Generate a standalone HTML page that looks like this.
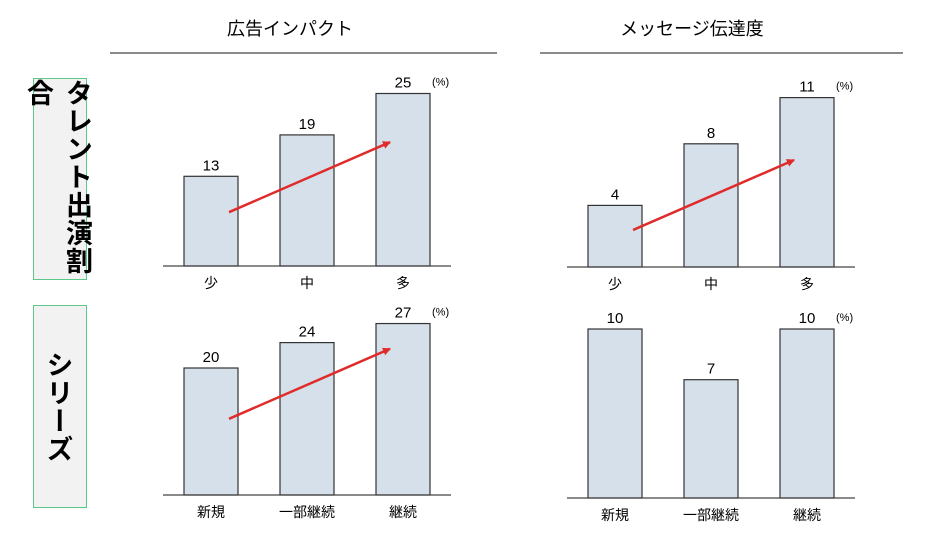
<!DOCTYPE html>
<html><head><meta charset="utf-8"><style>
body{margin:0;background:#fff;font-family:"Liberation Sans","Noto Sans CJK JP",sans-serif;}
svg text{font-family:"Liberation Sans","Noto Sans CJK JP",sans-serif;}
.box{position:absolute;left:33px;width:54px;background:#f2f2f2;border:1.5px solid #5cc98a;box-sizing:border-box;display:flex;align-items:center;justify-content:center;writing-mode:vertical-rl;font-weight:bold;font-size:27px;color:#000;letter-spacing:1px;font-family:"Noto Sans CJK JP",sans-serif;}
</style></head><body>
<div style="position:relative;width:943px;height:537px;overflow:hidden">
<div class="box" style="top:78px;height:202px">タレント出演割合</div>
<div class="box" style="top:305px;height:203px">シリーズ</div>
<svg id="chart" width="943" height="537" style="position:absolute;left:0;top:0">
<defs><marker id="ah" markerWidth="8" markerHeight="8" refX="7" refY="4" orient="auto" markerUnits="userSpaceOnUse"><path d="M0,0 L8,4 L0,8 z" fill="#e02b2b"/></marker></defs>
<text x="290" y="35" text-anchor="middle" font-size="18">広告インパクト</text>
<line x1="110" y1="53" x2="497" y2="53" stroke="#444" stroke-width="1.2"/>
<text x="692" y="35" text-anchor="middle" font-size="18">メッセージ伝達度</text>
<line x1="540" y1="53" x2="903" y2="53" stroke="#444" stroke-width="1.2"/>
</svg>
</div>
<script>
const catsTop = ["少","中","多"];
const catsBottom = ["新規","一部継続","継続"];
const adTalent = [13,19,25];
const msgTalent = [4,8,11];
const adSeries = [20,24,27];
const msgSeries = [10,7,10];
const svg = document.getElementById('chart');
const NS = 'http://www.w3.org/2000/svg';
function mk(tag, attrs){const e=document.createElementNS(NS,tag);for(const k in attrs)e.setAttribute(k,attrs[k]);svg.appendChild(e);return e;}
function panel(name, cats, vals, x0, base, pxPerUnit, arrow){
  const bx=[x0+21,x0+117,x0+213], bw=54;
  const y=v=>base-v*pxPerUnit;
  vals.forEach((v,i)=>{
    const r=mk('rect',{x:bx[i],y:y(v),width:bw,height:base-y(v),fill:'#d6e0ea',stroke:'#333','stroke-width':1.2});
    
    
    const t=mk('text',{x:bx[i]+bw/2,y:y(v)-6,'text-anchor':'middle','font-size':15});
    t.textContent=v;
    
    
    const c=mk('text',{x:bx[i]+bw/2,y:base+22,'text-anchor':'middle','font-size':14});
    c.textContent=cats[i];
    
    
  });
  mk('line',{x1:x0,y1:base,x2:x0+288,y2:base,stroke:'#444','stroke-width':1.3});
  const p=mk('text',{x:bx[2]+bw+2,y:y(vals[2])-8,'font-size':11});
  p.textContent='(%)';
  
  
  if(arrow){
    const a=mk('line',{x1:bx[0]+45,y1:y(vals[0]*0.6),x2:bx[2]+14,y2:y(vals[0]*0.6)-70,stroke:'#e02b2b','stroke-width':2.5,'marker-end':'url(#ah)'});
    
    
  }
}
panel('ad-talent', catsTop, adTalent, 163, 266, 6.9, true);
panel('msg-talent', catsTop, msgTalent, 567, 267, 15.4, true);
panel('ad-series', catsBottom, adSeries, 163, 495, 6.35, true);
panel('msg-series', catsBottom, msgSeries, 567, 498, 16.9, false);
</script>
</body></html>
